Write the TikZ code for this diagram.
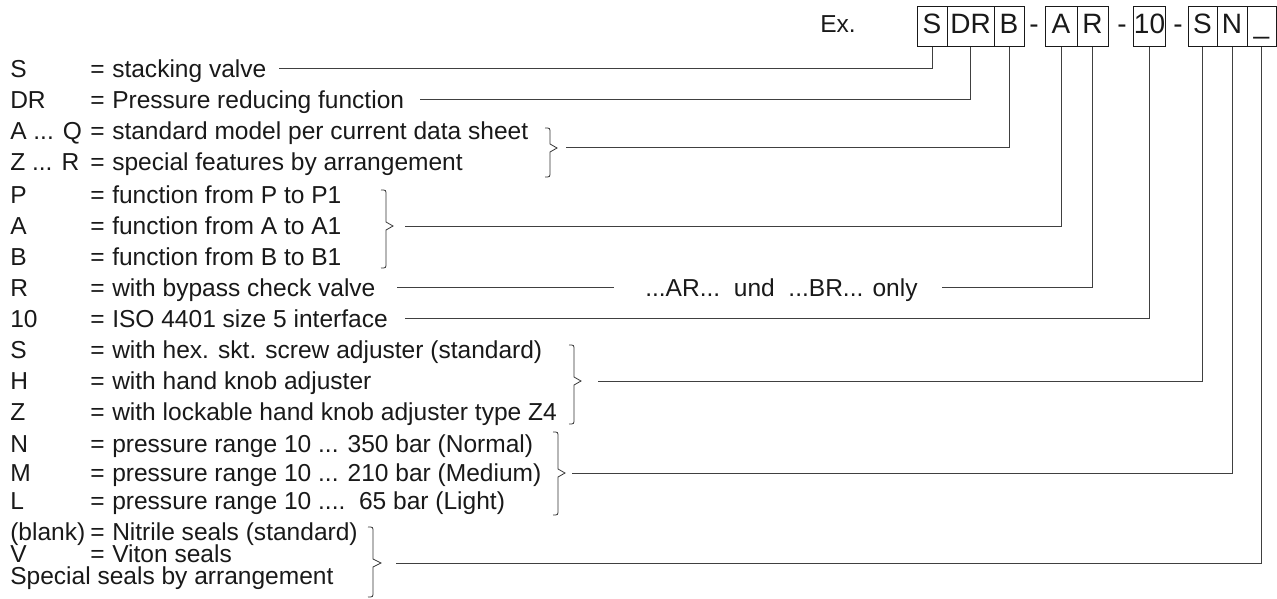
\documentclass[tikz,border=0pt]{standalone}
\usepackage{fontspec}
\setmainfont{Liberation Sans}
\usepackage{tikz}

\begin{document}
\begin{tikzpicture}[x=0.75pt, y=-0.75pt,
			key/.style={
				anchor = base west,
				inner sep = 0pt,
				font = \fontsize{18.4}{18.4}\selectfont,
				color = black!90},
			cell/.style={
				draw = black!80,
				line width = 0.75pt,
				inner sep = 0pt,
				text height = 19.9pt,
				text depth = 10.1pt,
				minimum width = #1*0.75pt,
				font = \fontsize{21}{21}\selectfont,
				color = black!90},
			hyph/.style={
				inner sep = 0pt,
				text height = 19.9pt,
				text depth = 10.1pt,
				font = \fontsize{21}{21}\selectfont,
				color = black!90},
			conn/.style={draw = black!75, line width = 0.75pt},
			brace/.style={draw = black!80, line width = 0.6pt}]
			\useasboundingbox (0, 0) rectangle (1277, 599);
			% type code
			\node (ex) at (820, 33) [key] {Ex.};
			\node (cS) at (932, 27) [cell=30] {S};
			\node (cDR) at (970.5, 27) [cell=47] {DR};
			\node (cB) at (1009, 27) [cell=30] {B};
			\node (h1) at (1034, 27) [hyph] {-};
			\node (cA) at (1061, 27) [cell=32] {A};
			\node (cR) at (1092.5, 27) [cell=31] {R};
			\node (h2) at (1122, 27) [hyph] {-};
			\node (c10) at (1149.5, 27) [cell=29] {10};
			\node (h3) at (1178, 27) [hyph] {-};
			\node (cS2) at (1202.5, 27) [cell=29] {S};
			\node (cN) at (1232, 27) [cell=30] {N};
			\node (cX) at (1261.5, 27) [cell=29] {\_};
			% key
			\node (kS) at (10, 78) [key] {S};
			\node (eS) at (90, 78) [key] {=};
			\node (tS) at (112, 78) [key] {stacking valve};
			\node (kDR) at (10, 109) [key] {DR};
			\node (eDR) at (90, 109) [key] {=};
			\node (tDR) at (112, 109) [key] {Pressure reducing function};
			\node (kAQ) at (10, 140) [key] {A ... Q};
			\node (eAQ) at (90, 140) [key] {=};
			\node (tAQ) at (112, 140) [key] {standard model per current data sheet};
			\node (kZR) at (10, 171) [key] {Z ... R};
			\node (eZR) at (90, 171) [key] {=};
			\node (tZR) at (112, 171) [key] {special features by arrangement};
			\node (kP) at (10, 203) [key] {P};
			\node (eP) at (90, 203) [key] {=};
			\node (tP) at (112, 203) [key] {function from P to P1};
			\node (kA) at (10, 234) [key] {A};
			\node (eA) at (90, 234) [key] {=};
			\node (tA) at (112, 234) [key] {function from A to A1};
			\node (kB) at (10, 265) [key] {B};
			\node (eB) at (90, 265) [key] {=};
			\node (tB) at (112, 265) [key] {function from B to B1};
			\node (kR) at (10, 296) [key] {R};
			\node (eR) at (90, 296) [key] {=};
			\node (tR) at (112, 296) [key] {with bypass check valve};
			\node (only) at (645, 296) [key] {...AR...\ \ und\ \ ...BR... only};
			\node (k10) at (10, 327) [key] {10};
			\node (e10) at (90, 327) [key] {=};
			\node (t10) at (112, 327) [key] {ISO 4401 size 5 interface};
			\node (kS2) at (10, 358) [key] {S};
			\node (eS2) at (90, 358) [key] {=};
			\node (tS2) at (112, 358) [key] {with hex. skt. screw adjuster (standard)};
			\node (kH) at (10, 389) [key] {H};
			\node (eH) at (90, 389) [key] {=};
			\node (tH) at (112, 389) [key] {with hand knob adjuster};
			\node (kZ) at (10, 420) [key] {Z};
			\node (eZ) at (90, 420) [key] {=};
			\node (tZ) at (112, 420) [key] {with lockable hand knob adjuster type Z4};
			\node (kN) at (10, 452) [key] {N};
			\node (eN) at (90, 452) [key] {=};
			\node (tN) at (112, 452) [key] {pressure range 10 ... 350 bar (Normal)};
			\node (kM) at (10, 481) [key] {M};
			\node (eM) at (90, 481) [key] {=};
			\node (tM) at (112, 481) [key] {pressure range 10 ... 210 bar (Medium)};
			\node (kL) at (10, 509) [key] {L};
			\node (eL) at (90, 509) [key] {=};
			\node (tL) at (112, 509) [key] {pressure range 10 ....\ \ 65 bar (Light)};
			\node (kbl) at (10, 540) [key] {(blank)};
			\node (ebl) at (90, 540) [key] {=};
			\node (tbl) at (112, 540) [key] {Nitrile seals (standard)};
			\node (kV) at (10, 562) [key] {V};
			\node (eV) at (90, 562) [key] {=};
			\node (tV) at (112, 562) [key] {Viton seals};
			\node (tsp) at (10, 584) [key] {Special seals by arrangement};
			% braces
			\draw[brace] (545, 128) .. controls (550, 128) .. (550, 133) -- (550, 144) -- (557, 148) -- (550, 152) -- (550, 172) .. controls (550, 177) .. (545, 177);
			\draw[brace] (381, 190) .. controls (386, 190) .. (386, 195) -- (386, 222) -- (393, 226) -- (386, 230) -- (386, 263) .. controls (386, 268) .. (381, 268);
			\draw[brace] (569, 345) .. controls (574, 345) .. (574, 350) -- (574, 377) -- (581, 381) -- (574, 385) -- (574, 419) .. controls (574, 424) .. (569, 424);
			\draw[brace] (553, 432) .. controls (558, 432) .. (558, 437) -- (558, 469) -- (565, 473) -- (558, 477) -- (558, 510) .. controls (558, 515) .. (553, 515);
			\draw[brace] (368, 527) .. controls (373, 527) .. (373, 532) -- (373, 559) -- (381, 563) -- (373, 567) -- (373, 592) .. controls (373, 597) .. (368, 597);
			% connectors
			\coordinate (sS) at (279, 69);
			\coordinate (sDR) at (420, 100);
			\coordinate (sAQ) at (566, 148);
			\coordinate (sP) at (405, 226);
			\coordinate (sR) at (397, 287);
			\coordinate (eR1) at (614, 287);
			\coordinate (sR2) at (942, 287);
			\coordinate (s10) at (405, 318);
			\coordinate (sS2) at (598, 381);
			\coordinate (sN) at (572, 473);
			\coordinate (sbl) at (396, 563);
			\draw[conn] (sS) -| (cS.south);
			\draw[conn] (sDR) -| (cDR.south);
			\draw[conn] (sAQ) -| (cB.south);
			\draw[conn] (sP) -| (cA.south);
			\draw[conn] (sR) -- (eR1);
			\draw[conn] (sR2) -| (cR.south);
			\draw[conn] (s10) -| (c10.south);
			\draw[conn] (sS2) -| (cS2.south);
			\draw[conn] (sN) -| (cN.south);
			\draw[conn] (sbl) -| (cX.south);
			\end{tikzpicture}
\end{document}
